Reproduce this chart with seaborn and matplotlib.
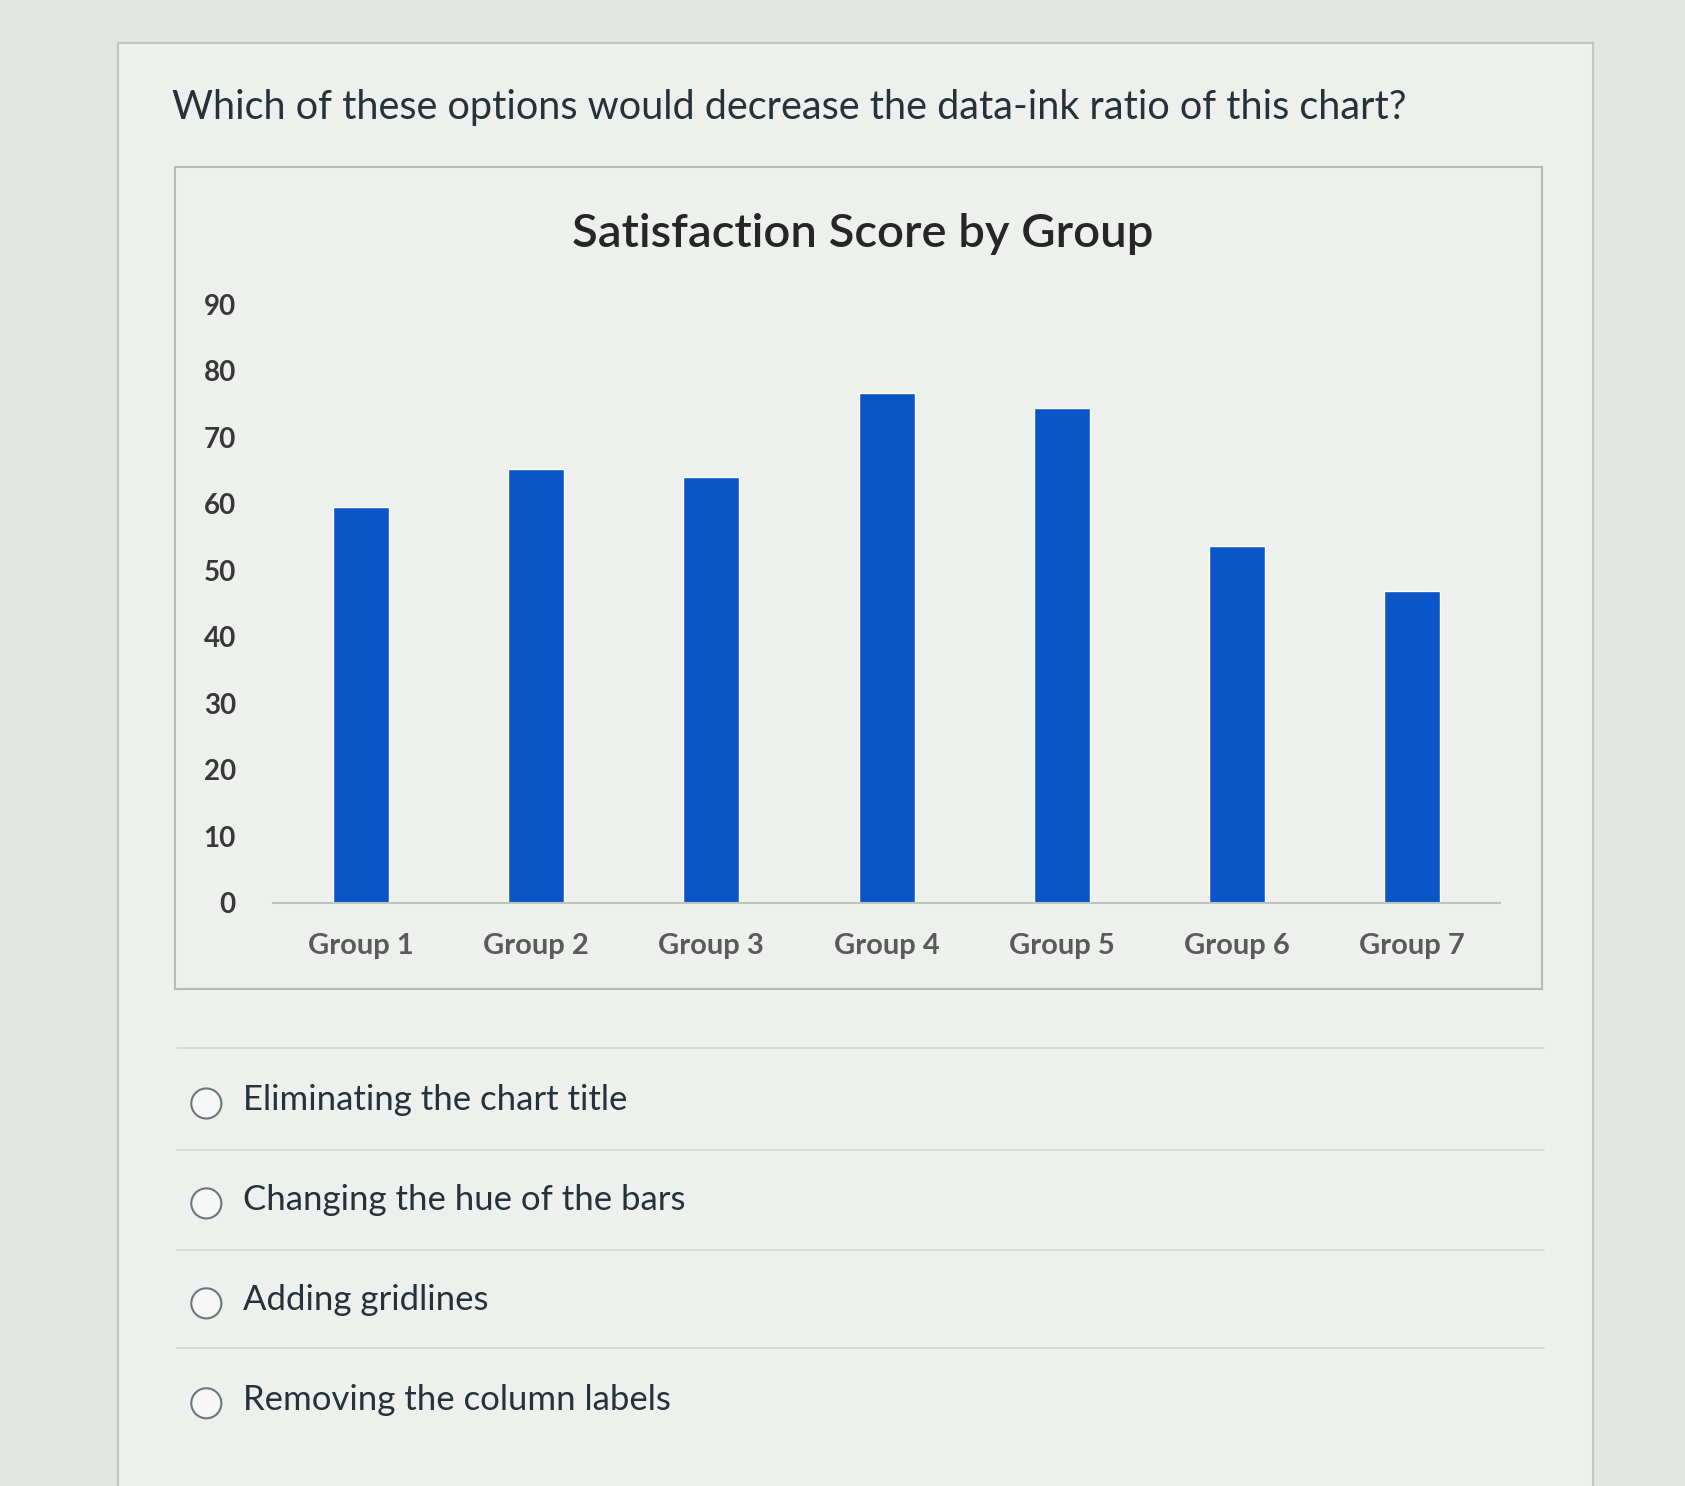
import matplotlib
matplotlib.use("Agg")
import matplotlib.pyplot as plt
from matplotlib.patches import Rectangle, Circle
import seaborn as sns

groups = ["Group 1", "Group 2", "Group 3", "Group 4", "Group 5", "Group 6", "Group 7"]
scores = [59.5, 65.2, 64.0, 76.6, 74.4, 53.6, 46.8]
yticks = [0, 10, 20, 30, 40, 50, 60, 70, 80, 90]

question = "Which of these options would decrease the data-ink ratio of this chart?"
chart_title = "Satisfaction Score by Group"
options = ["Eliminating the chart title", "Changing the hue of the bars",
           "Adding gridlines", "Removing the column labels"]

sns.set_theme(style="white")
plt.rcParams['font.family'] = ['Lato', 'DejaVu Sans']

W, H = 1568, 1383
fig = plt.figure(figsize=(16.85, 14.86), dpi=100)
fig.patch.set_facecolor("#e3e5e3")

# background (page) axes in reference pixel coordinates
bg = fig.add_axes([0, 0, 1, 1], zorder=0)
bg.set_xlim(0, W)
bg.set_ylim(H, 0)
bg.axis("off")
bg.add_patch(Rectangle((110, 40), 1372, H, facecolor="#eef0ee", edgecolor="#c4c6c4", lw=1.5))
bg.text(160, 100, question, fontsize=28.5, color="#26323a", va="center", ha="left")
# chart box
bg.add_patch(Rectangle((163, 155), 1272, 765, facecolor="#eef0ee", edgecolor="#b8bab8", lw=1.5))
bg.text(803, 218, chart_title, fontsize=34, fontweight="semibold", color="#262626",
        va="center", ha="center")

# separators and options
for ysep in [975, 1070, 1163, 1255]:
    bg.plot([165, 1437], [ysep, ysep], color="#d2d4d2", lw=1.2)
for i, opt in enumerate(options):
    yy = 1024 + i * 93
    bg.add_patch(Circle((192, yy + 3), 14, facecolor="#f6f7f6", edgecolor="#6b7780", lw=1.5))
    bg.text(226, yy, opt, fontsize=25, color="#26323a", va="center", ha="left")

# chart axes
left, right, top, bottom = 254.5, 1395.5, 283, 840
ax = fig.add_axes([left / W, 1 - bottom / H, (right - left) / W, (bottom - top) / H], zorder=2)
ax.set_facecolor("none")
sns.barplot(x=groups, y=scores, color="#0a56c9", width=0.32, saturation=1, ax=ax)
ax.set_xlim(-0.5, len(groups) - 0.5)
ax.set_ylim(0, 90)
ax.set_yticks(yticks)
ax.set_yticklabels([str(v) for v in yticks])
ax.set_xticks(range(len(groups)))
ax.set_xticklabels(groups)
ax.set_xlabel("")
ax.set_ylabel("")
for s in ["top", "right", "left"]:
    ax.spines[s].set_visible(False)
ax.spines["bottom"].set_color("#c0c2c0")
ax.spines["bottom"].set_linewidth(1.5)
ax.tick_params(axis="y", length=0, pad=27, labelsize=20, labelcolor="#383838")
ax.tick_params(axis="x", length=0, pad=22, labelsize=21, labelcolor="#5a5a5a")
for lab in ax.get_yticklabels() + ax.get_xticklabels():
    lab.set_fontweight("bold")

fig.savefig("out.png", dpi=100, facecolor=fig.get_facecolor())
